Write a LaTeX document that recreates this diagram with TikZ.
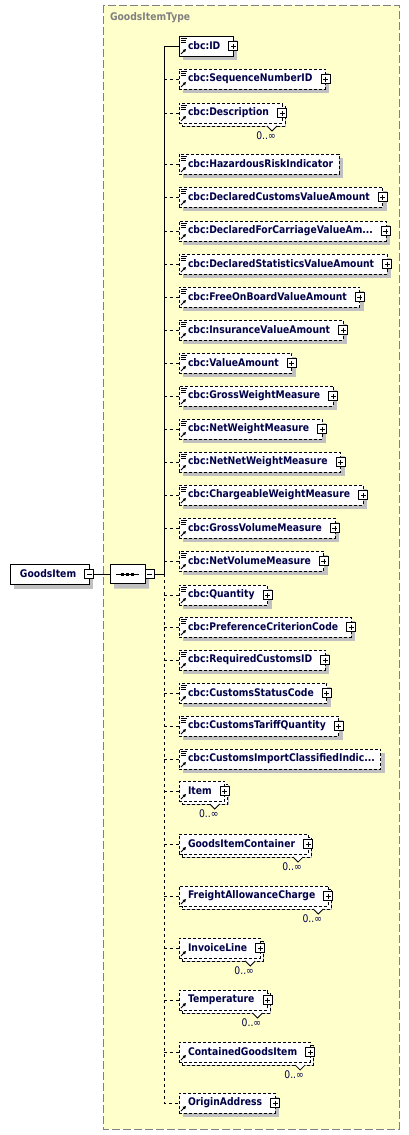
\documentclass[tikz,border=0pt]{standalone}
\usepackage{fontspec}
\usetikzlibrary{shadows,shapes.misc,arrows.meta}
\newfontfamily\diafont[FakeStretch=0.88]{DejaVu Sans}
\definecolor{typeyellow}{RGB}{255,255,204}
\definecolor{typegray}{RGB}{128,128,128}
\definecolor{shadowgray}{RGB}{192,192,192}
\definecolor{namenavy}{RGB}{0,0,72}
\begin{document}
\begin{tikzpicture}[x=1pt, y=-1pt,
        every node/.style={inner sep=0pt, outer sep=0pt},
        typebox/.style={draw=typegray, fill=typeyellow, line width=1pt, dash pattern=on 8pt off 3pt},
        typename/.style={anchor=west, font=\diafont\bfseries\fontsize{10.5}{12}\selectfont, text=typegray},
        elem/.style={rectangle, draw=black, line width=0.9pt, dash pattern=on 3pt off 2pt, fill=white,
            minimum height=20pt, inner xsep=6pt, anchor=west, text=namenavy,
            font=\diafont\bfseries\fontsize{10.5}{12}\selectfont,
            execute at begin node={\hspace*{3pt}},
            drop shadow={shadow xshift=4pt, shadow yshift=-4pt, fill=shadowgray, opacity=1}},
        mandatory/.style={solid},
        expandable/.style={execute at end node={\hspace*{7pt}}},
        multi/.style={copy shadow={shadow xshift=3pt, shadow yshift=-3pt, draw=black, fill=white, dash pattern=on 3pt off 2pt}},
        refarrow/.style={path picture={
            \draw[solid, line width=0.9pt, -{Triangle[length=3pt, width=3pt]}] ([shift={(2,18)}]path picture bounding box.north west) -- ++(5,-5);}},
        cbcicon/.style={path picture={
            \draw[solid, line width=0.7pt] ([shift={(2,2)}]path picture bounding box.north west) -- ++(6,0)
                ([shift={(2,4)}]path picture bounding box.north west) -- ++(5,0)
                ([shift={(2,6)}]path picture bounding box.north west) -- ++(5,0);
            \draw[solid, line width=0.9pt, -{Triangle[length=3pt, width=3pt]}] ([shift={(2,18)}]path picture bounding box.north west) -- ++(5,-5);}},
        plusbox/.style={draw=black, solid, line width=0.8pt, fill=white, minimum size=9pt,
            path picture={\draw[line width=0.8pt] ([xshift=2pt]path picture bounding box.west) -- ([xshift=-2pt]path picture bounding box.east)
                ([yshift=-2pt]path picture bounding box.north) -- ([yshift=2pt]path picture bounding box.south);}},
        minusbox/.style={draw=black, solid, line width=0.8pt, fill=white, minimum size=9pt,
            path picture={\draw[line width=0.8pt] ([xshift=2pt]path picture bounding box.west) -- ([xshift=-2pt]path picture bounding box.east);}},
        seqbox/.style={chamfered rectangle, chamfered rectangle xsep=6pt, draw=black, line width=0.9pt, fill=white,
            minimum width=35pt, minimum height=19pt,
            drop shadow={shadow xshift=4pt, shadow yshift=-5pt, fill=shadowgray, opacity=1}},
        topbox/.style={draw=black, line width=0.9pt, fill=white, minimum height=20pt, inner xsep=6pt, anchor=west,
            text=namenavy, font=\diafont\bfseries\fontsize{10.5}{12}\selectfont,
            execute at begin node={\hspace*{4pt}}, execute at end node={\hspace*{7pt}},
            drop shadow={shadow xshift=4pt, shadow yshift=-5pt, fill=shadowgray, opacity=1}},
        link/.style={draw=black, line width=1pt},
        optlink/.style={draw=black, line width=1pt, dash pattern=on 3pt off 3pt},
        notch/.style={draw=black, solid, line width=0.8pt, fill=white},
        mult/.style={font=\diafont\fontsize{10.5}{12}\selectfont, text=namenavy}
    ]
    \useasboundingbox (0,0) rectangle (409,1135);

    % Type area
    \draw[typebox] (103,5) rectangle (399,1129);
    \node[typename] (title) at (110,18) {GoodsItemType};

    % Root element and sequence
    \node[topbox] (gi) at (10,574) {GoodsItem};
    \node[minusbox] (giminus) at (gi.east) {};
    \node[seqbox] (seq) at (127.5,574) {};
    \draw[line width=0.9pt] ([xshift=6pt]seq.west) -- ([xshift=-6pt]seq.east);
    \fill ([shift={(-6.5,-1.5)}]seq.center) rectangle ++(3,3);
    \fill ([shift={(-1.5,-1.5)}]seq.center) rectangle ++(3,3);
    \fill ([shift={(3.5,-1.5)}]seq.center) rectangle ++(3,3);
    \node[minusbox, anchor=west] (seqminus) at (seq.east) {};
    \coordinate (trunk) at (164,574);

    % cbc elements
    \node[elem, cbcicon, mandatory, expandable] (id) at (179,46) {cbc:ID};
    \node[elem, cbcicon, expandable] (seqnum) at (179,79) {cbc:SequenceNumberID};
    \node[elem, multi, cbcicon, expandable] (desc) at (179,113) {cbc:Description};
    \node[elem, cbcicon] (hazard) at (179,164) {cbc:HazardousRiskIndicator};
    \node[elem, cbcicon, expandable] (dcustoms) at (179,197) {cbc:DeclaredCustomsValueAmount};
    \node[elem, cbcicon, expandable] (dcarriage) at (179,231) {cbc:DeclaredForCarriageValueAm...};
    \node[elem, cbcicon, expandable] (dstats) at (179,264) {cbc:DeclaredStatisticsValueAmount};
    \node[elem, cbcicon, expandable] (fob) at (179,297) {cbc:FreeOnBoardValueAmount};
    \node[elem, cbcicon, expandable] (insur) at (179,330) {cbc:InsuranceValueAmount};
    \node[elem, cbcicon, expandable] (value) at (179,363) {cbc:ValueAmount};
    \node[elem, cbcicon, expandable] (gweight) at (179,396) {cbc:GrossWeightMeasure};
    \node[elem, cbcicon, expandable] (nweight) at (179,429) {cbc:NetWeightMeasure};
    \node[elem, cbcicon, expandable] (nnweight) at (179,462) {cbc:NetNetWeightMeasure};
    \node[elem, cbcicon, expandable] (cweight) at (179,495) {cbc:ChargeableWeightMeasure};
    \node[elem, cbcicon, expandable] (gvolume) at (179,528) {cbc:GrossVolumeMeasure};
    \node[elem, cbcicon, expandable] (nvolume) at (179,561) {cbc:NetVolumeMeasure};
    \node[elem, cbcicon, expandable] (qty) at (179,595) {cbc:Quantity};
    \node[elem, cbcicon, expandable] (pref) at (179,627) {cbc:PreferenceCriterionCode};
    \node[elem, cbcicon, expandable] (reqid) at (179,660) {cbc:RequiredCustomsID};
    \node[elem, cbcicon, expandable] (status) at (179,693) {cbc:CustomsStatusCode};
    \node[elem, cbcicon, expandable] (tariff) at (179,726) {cbc:CustomsTariffQuantity};
    \node[elem, cbcicon] (classified) at (179,759) {cbc:CustomsImportClassifiedIndic...};

    % cac elements
    \node[elem, multi, refarrow, expandable] (item) at (179,791) {Item};
    \node[elem, multi, refarrow, expandable] (container) at (179,844) {GoodsItemContainer};
    \node[elem, multi, refarrow, expandable] (freight) at (179,896) {FreightAllowanceCharge};
    \node[elem, multi, refarrow, expandable] (invoice) at (179,948) {InvoiceLine};
    \node[elem, multi, refarrow, expandable] (temp) at (179,1000) {Temperature};
    \node[elem, multi, refarrow, expandable] (contained) at (179,1052) {ContainedGoodsItem};
    \node[elem, refarrow, expandable] (origin) at (179,1103) {OriginAddress};

    % expand buttons
    \node[plusbox] at (id.east) {};
    \node[plusbox] at (seqnum.east) {};
    \node[plusbox] at (desc.east) {};
    \node[plusbox] at (dcustoms.east) {};
    \node[plusbox] at (dcarriage.east) {};
    \node[plusbox] at (dstats.east) {};
    \node[plusbox] at (fob.east) {};
    \node[plusbox] at (insur.east) {};
    \node[plusbox] at (value.east) {};
    \node[plusbox] at (gweight.east) {};
    \node[plusbox] at (nweight.east) {};
    \node[plusbox] at (nnweight.east) {};
    \node[plusbox] at (cweight.east) {};
    \node[plusbox] at (gvolume.east) {};
    \node[plusbox] at (nvolume.east) {};
    \node[plusbox] at (qty.east) {};
    \node[plusbox] at (pref.east) {};
    \node[plusbox] at (reqid.east) {};
    \node[plusbox] at (status.east) {};
    \node[plusbox] at (tariff.east) {};
    \node[plusbox] at (item.east) {};
    \node[plusbox] at (container.east) {};
    \node[plusbox] at (freight.east) {};
    \node[plusbox] at (invoice.east) {};
    \node[plusbox] at (temp.east) {};
    \node[plusbox] at (contained.east) {};
    \node[plusbox] at (origin.east) {};

    % multiplicity marks
    \draw[notch] ([shift={(-15,3)}]desc.south east) -- ++(5,5) -- ++(5,-5);
    \node[mult] at ([shift={(-16,23)}]desc.east) {0..∞};
    \draw[notch] ([shift={(-15,3)}]item.south east) -- ++(5,5) -- ++(5,-5);
    \node[mult] at ([shift={(-16,23)}]item.east) {0..∞};
    \draw[notch] ([shift={(-15,3)}]container.south east) -- ++(5,5) -- ++(5,-5);
    \node[mult] at ([shift={(-16,23)}]container.east) {0..∞};
    \draw[notch] ([shift={(-15,3)}]freight.south east) -- ++(5,5) -- ++(5,-5);
    \node[mult] at ([shift={(-16,23)}]freight.east) {0..∞};
    \draw[notch] ([shift={(-15,3)}]invoice.south east) -- ++(5,5) -- ++(5,-5);
    \node[mult] at ([shift={(-16,23)}]invoice.east) {0..∞};
    \draw[notch] ([shift={(-15,3)}]temp.south east) -- ++(5,5) -- ++(5,-5);
    \node[mult] at ([shift={(-16,23)}]temp.east) {0..∞};
    \draw[notch] ([shift={(-15,3)}]contained.south east) -- ++(5,5) -- ++(5,-5);
    \node[mult] at ([shift={(-16,23)}]contained.east) {0..∞};

    % connectors
    \draw[link] (giminus.east) -- (seq.west);
    \draw[link] (seqminus.east) -- (trunk);
    \draw[link] (trunk) |- (id.west);
    \draw[optlink] (trunk) |- (origin.west);
    \draw[optlink] (trunk |- seqnum.west) -- (seqnum.west);
    \draw[optlink] (trunk |- desc.west) -- (desc.west);
    \draw[optlink] (trunk |- hazard.west) -- (hazard.west);
    \draw[optlink] (trunk |- dcustoms.west) -- (dcustoms.west);
    \draw[optlink] (trunk |- dcarriage.west) -- (dcarriage.west);
    \draw[optlink] (trunk |- dstats.west) -- (dstats.west);
    \draw[optlink] (trunk |- fob.west) -- (fob.west);
    \draw[optlink] (trunk |- insur.west) -- (insur.west);
    \draw[optlink] (trunk |- value.west) -- (value.west);
    \draw[optlink] (trunk |- gweight.west) -- (gweight.west);
    \draw[optlink] (trunk |- nweight.west) -- (nweight.west);
    \draw[optlink] (trunk |- nnweight.west) -- (nnweight.west);
    \draw[optlink] (trunk |- cweight.west) -- (cweight.west);
    \draw[optlink] (trunk |- gvolume.west) -- (gvolume.west);
    \draw[optlink] (trunk |- nvolume.west) -- (nvolume.west);
    \draw[optlink] (trunk |- qty.west) -- (qty.west);
    \draw[optlink] (trunk |- pref.west) -- (pref.west);
    \draw[optlink] (trunk |- reqid.west) -- (reqid.west);
    \draw[optlink] (trunk |- status.west) -- (status.west);
    \draw[optlink] (trunk |- tariff.west) -- (tariff.west);
    \draw[optlink] (trunk |- classified.west) -- (classified.west);
    \draw[optlink] (trunk |- item.west) -- (item.west);
    \draw[optlink] (trunk |- container.west) -- (container.west);
    \draw[optlink] (trunk |- freight.west) -- (freight.west);
    \draw[optlink] (trunk |- invoice.west) -- (invoice.west);
    \draw[optlink] (trunk |- temp.west) -- (temp.west);
    \draw[optlink] (trunk |- contained.west) -- (contained.west);

\end{tikzpicture}
\end{document}
